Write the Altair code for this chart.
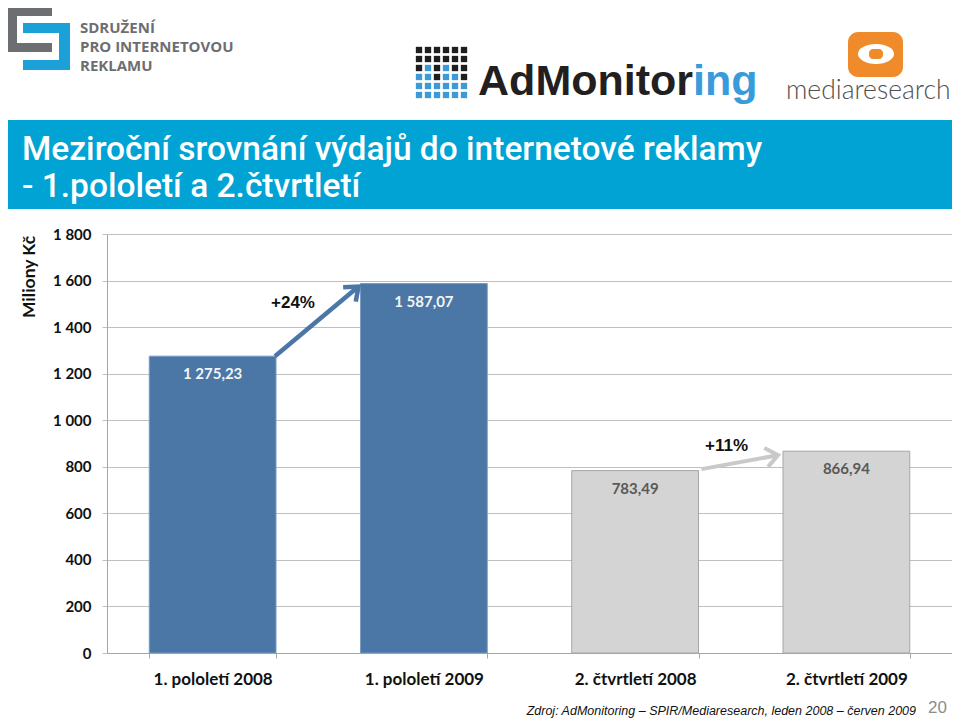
import altair as alt
import pandas as pd

# ---------------- data ----------------
categories = ["1. pololetí 2008", "1. pololetí 2009", "2. čtvrtletí 2008", "2. čtvrtletí 2009"]
values = [1275.23, 1587.07, 783.49, 866.94]
groups = ["pololetí", "pololetí", "čtvrtletí", "čtvrtletí"]
y_ticks = [0, 200, 400, 600, 800, 1000, 1200, 1400, 1600, 1800]
arrow_pairs = [(0, 1), (2, 3)]

title_lines = ["Meziroční srovnání výdajů do internetové reklamy", "- 1.pololetí a 2.čtvrtletí"]
y_title = "Miliony Kč"
source_text = "Zdroj: AdMonitoring – SPIR/Mediaresearch, leden 2008 – červen 2009"
page_number = "20"
spir_lines = ["SDRUŽENÍ", "PRO INTERNETOVOU", "REKLAMU"]
adm_parts = ["AdMonitor", "ing"]
mr_text = "mediaresearch"
adm_grid = [
    "KKKKKK",
    "KKKKKK",
    "KBKBKK",
    "BBKBBK",
    "BBBBBB",
    "BBBBBB",
]

# ---------------- layout ----------------
W, H = 845, 419
PAD_L, PAD_T = 99, 226
TOTAL_H = 710
ORIGIN_X, ORIGIN_Y = 8 + PAD_L, 8 + PAD_T   # page position of the plot origin

def px(x):
    return x - ORIGIN_X

def py(y):
    return y - ORIGIN_Y

one = pd.DataFrame({"k": [0]})

def rect(x0, y0, x1, y1, color, **kw):
    return alt.Chart(one).mark_rect(color=color, **kw).encode(
        x=alt.value(px(x0)), x2=alt.value(px(x1)),
        y=alt.value(py(y0)), y2=alt.value(py(y1)))

def text(s, x, y, **kw):
    return alt.Chart(one).mark_text(text=s, **kw).encode(
        x=alt.value(px(x)), y=alt.value(py(y)))

BLUE = "#4A77A5"
GREY = "#D4D4D4"
NUMFONT = "Lato"
TITLEFONT = "Roboto"

layers = []

# title banner
layers.append(rect(5, 120, 958, 209, "#00A3D4"))
layers.append(text(title_lines[0], 22, 160, font=TITLEFONT, fontWeight=500,
                   fontSize=33.5, color="white", align="left", baseline="alphabetic"))
layers.append(text(title_lines[1], 22, 197, font=TITLEFONT, fontWeight=500,
                   fontSize=33.5, color="white", align="left", baseline="alphabetic"))

# SPIR logo
SG, SB = "#6D6E71", "#1BA1D8"
layers += [
    rect(5, 5, 52, 16, SG), rect(5, 5, 17, 52, SG), rect(5, 43, 52, 52, SG),
    rect(23, 23, 70, 33, SB), rect(59, 23, 70, 70, SB), rect(23, 60, 70, 70, SB),
]
for line, base in zip(spir_lines, [33, 52, 71]):
    layers.append(text(line, 80, base, font="Open Sans", fontWeight="bold", fontSize=15,
                       color=SG, align="left", baseline="alphabetic"))

# AdMonitoring logo
for r, row in enumerate(adm_grid):
    for c, ch in enumerate(row):
        col = "#1E1E1E" if ch == "K" else "#3D9AD6"
        layers.append(alt.Chart(one).mark_square(size=40, color=col, opacity=1).encode(
            x=alt.value(px(419 + 9 * c)), y=alt.value(py(50 + 9 * r))))
layers.append(text(adm_parts[0], 693, 95, font="Liberation Sans", fontWeight="bold", fontSize=43,
                   color="#231F20", align="right", baseline="alphabetic"))
layers.append(text(adm_parts[1], 693, 95, font="Liberation Sans", fontWeight="bold", fontSize=43,
                   color="#3A9BDA", align="left", baseline="alphabetic"))

# mediaresearch logo
layers.append(rect(848, 32, 903, 77, "#F08B2C", cornerRadius=10))
layers.append(alt.Chart(one).mark_point(
    shape="M-1,0A1,0.55,0,1,1,1,0A1,0.55,0,1,1,-1,0Z", size=1300, filled=True,
    color="white", opacity=1).encode(x=alt.value(px(876)), y=alt.value(py(54))))
layers.append(rect(869, 49, 883, 59, "#F08B2C", cornerRadius=4))
layers.append(text(mr_text, 786, 99, font="Lato", fontWeight=300, fontSize=26.5,
                   color="#505050", align="left", baseline="alphabetic"))

# ---------------- chart ----------------
df = pd.DataFrame({"cat": categories, "value": values, "group": groups})
xscale = alt.Scale(domain=categories, paddingInner=0.4, paddingOuter=0.2)
yscale = alt.Scale(domain=[0, 1800], nice=False)
is_blue = "datum.group == 'pololetí'"

x_axis = alt.Axis(labelAngle=0, tickBand="extent", labelFont=NUMFONT, labelFontWeight="bold",
                  labelFontSize=17, labelColor="#111111", labelPadding=13, tickSize=5,
                  domainColor="#A6A6A6", tickColor="#A6A6A6", grid=False)
y_axis = alt.Axis(values=y_ticks, labelExpr="replace(format(datum.value, ','), ',', ' ')",
                  labelFont=NUMFONT, labelFontWeight="bold", labelFontSize=15,
                  labelColor="#111111", labelPadding=11, tickSize=5, grid=True,
                  gridColor="#BFBFBF", domainColor="#A6A6A6", tickColor="#BFBFBF")

bars = alt.Chart(df).mark_bar(strokeWidth=1).encode(
    x=alt.X("cat:N", scale=xscale, sort=categories, title=None, axis=x_axis),
    y=alt.Y("value:Q", scale=yscale, title=None, axis=y_axis),
    color=alt.condition(is_blue, alt.value(BLUE), alt.value(GREY)),
    stroke=alt.condition(is_blue, alt.value("#7B9CC2"), alt.value("#A6A6A6")),
)

labels = alt.Chart(df).transform_calculate(
    lbl="replace(replace(format(datum.value, ',.2f'), ',', ' '), '.', ',')"
).mark_text(dy=18, font=NUMFONT, fontWeight="bold", fontSize=15).encode(
    x=alt.X("cat:N", scale=xscale, sort=categories, title=None, axis=x_axis),
    y=alt.Y("value:Q", scale=yscale, title=None, axis=y_axis),
    text="lbl:N",
    color=alt.condition(is_blue, alt.value("#F4F4F4"), alt.value("#595959")),
)

layers += [bars, labels]

arrow_styles = [
    dict(color=BLUE, width=4.5, off1=(-1, 0), off2=(-2, 3), angle=319, tdx=17, tdy=19),
    dict(color="#C9C9C9", width=4, off1=(3, -1.5), off2=(-5, 4), angle=349, tdx=28, tdy=-5),
]
for (i, j), st in zip(arrow_pairs, arrow_styles):
    adf = pd.DataFrame({"from": [categories[i]], "to": [categories[j]],
                        "v1": [values[i]], "v2": [values[j]]})
    pct = "+{:.0f}%".format((values[j] / values[i] - 1) * 100)
    layers.append(alt.Chart(adf).mark_rule(
        color=st["color"], strokeWidth=st["width"],
        xOffset=st["off1"][0], yOffset=st["off1"][1],
        x2Offset=st["off2"][0], y2Offset=st["off2"][1]).encode(
        x=alt.X("from:N", bandPosition=1, scale=xscale, title=None, axis=x_axis),
        x2=alt.X2("to", bandPosition=0),
        y=alt.Y("v1:Q", scale=yscale, title=None, axis=y_axis),
        y2=alt.Y2("v2"),
    ))
    layers.append(alt.Chart(adf).mark_point(
        shape="M-1,-0.8L0,0L-1,0.8", filled=False, size=576, strokeWidth=st["width"],
        color=st["color"], opacity=1, angle=st["angle"], strokeJoin="miter",
        xOffset=st["off2"][0], yOffset=st["off2"][1]).encode(
        x=alt.X("to:N", bandPosition=0, scale=xscale, title=None, axis=x_axis),
        y=alt.Y("v2:Q", scale=yscale, title=None, axis=y_axis),
    ))
    layers.append(alt.Chart(adf).mark_text(
        text=pct, dx=st["tdx"], dy=st["tdy"], font="Liberation Sans", fontWeight="bold",
        fontSize=17, color="#111111").encode(
        x=alt.X("from:N", bandPosition=1, scale=xscale, title=None, axis=x_axis),
        y=alt.Y("v2:Q", scale=yscale, title=None, axis=y_axis),
    ))

# axis title, source, page number
layers.append(text(y_title, 30, 277, font=NUMFONT, fontWeight="bold", fontSize=17.5,
                   color="#111111", angle=270, align="center", baseline="middle"))
layers.append(text(source_text, 916, 715, font="Liberation Sans", fontStyle="italic",
                   fontSize=12.5, color="#111111", align="right", baseline="alphabetic"))
layers.append(text(page_number, 928, 713, font="Liberation Sans", fontSize=17,
                   color="#8C8C8C", align="left", baseline="alphabetic"))

chart = alt.layer(*layers).properties(
    width=W, height=H,
    padding={"left": PAD_L, "top": PAD_T, "right": 0, "bottom": TOTAL_H - PAD_T - H},
    autosize=alt.AutoSizeParams(type="none"),
    background="white",
).configure_view(stroke=None)

chart.save("out.html", embed_options={"renderer": "svg", "actions": False})
